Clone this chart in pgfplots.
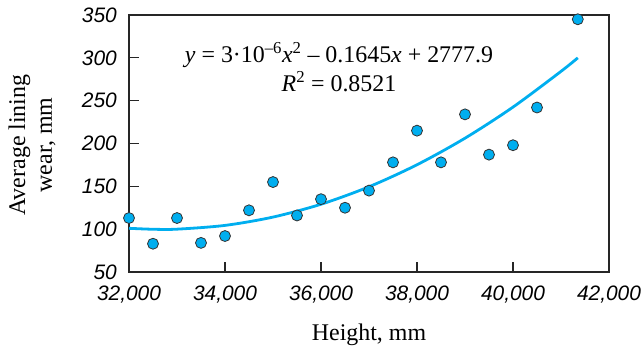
\documentclass[border=0pt]{standalone}
\usepackage{pgfplots}
\pgfplotsset{compat=1.18}
\usepackage{fontspec}
\setmainfont{Liberation Serif}
\setsansfont{Liberation Sans}
\definecolor{cy}{HTML}{00AEEF}
\begin{document}
\begin{tikzpicture}
\useasboundingbox (-129bp,-78bp) rectangle (515bp,272bp);
\begin{axis}[
  at={(0,0)}, anchor=south west,
  scale only axis,
  width=480bp, height=257bp,
  xmin=32000, xmax=42000, ymin=50, ymax=350,
  xtick={32000,34000,...,42000},
  ytick={50,100,...,350},
  tick pos=left, tick align=inside,
  major tick length=10bp,
  axis line style={line width=1.1bp, black!85},
  every tick/.style={line width=1.1bp, black!85},
  /pgf/number format/assume math mode=true,
  /pgf/number format/1000 sep={,},
  scaled ticks=false,
  ticklabel style={font=\sffamily\itshape\fontsize{21}{21}\selectfont, inner sep=1bp},
  xticklabel style={anchor=north, yshift=-13bp},
  yticklabel style={anchor=east, xshift=-11bp},
  label style={font=\fontsize{24}{27}\selectfont},
  xlabel={Height, mm},
  ylabel={Average lining\\wear, mm},
  ylabel style={align=center, at={(axis description cs:-0.202,0.494)}, anchor=center},
  xlabel style={at={(axis description cs:0.5,-0.245)}, anchor=center},
  clip=false,
]
\addplot[cy, line width=2.8bp, smooth, tension=0.5] coordinates {
(32000,101) (32500,99.9) (33000,100.0) (34000,104.4) (35000,114.1)
(36000,129.1) (37000,149.5) (38000,175.2) (39000,206.2) (40000,242.5)
(41000,284.2) (41350,300)};
\addplot[only marks, mark=*, mark size=5.5bp, mark options={fill=cy, draw=black!80, line width=0.8bp}] coordinates {
(32000,113) (32500,83) (33000,113) (33500,84) (34000,92) (34500,122)
(35000,155) (35500,116) (36000,135) (36500,125) (37000,145) (37500,178)
(38000,215) (38500,178) (39000,234) (39500,187) (40000,198) (40500,242)
(41350,345)};
\node[align=center, font=\fontsize{24}{29}\selectfont] at (axis cs:36375,289)
 {\textit{y} = 3·10\textsuperscript{–6}\textit{x}\textsuperscript{2} – 0.1645\textit{x} + 2777.9\\ \textit{R}\textsuperscript{2} = 0.8521};
\end{axis}
\end{tikzpicture}
\end{document}
